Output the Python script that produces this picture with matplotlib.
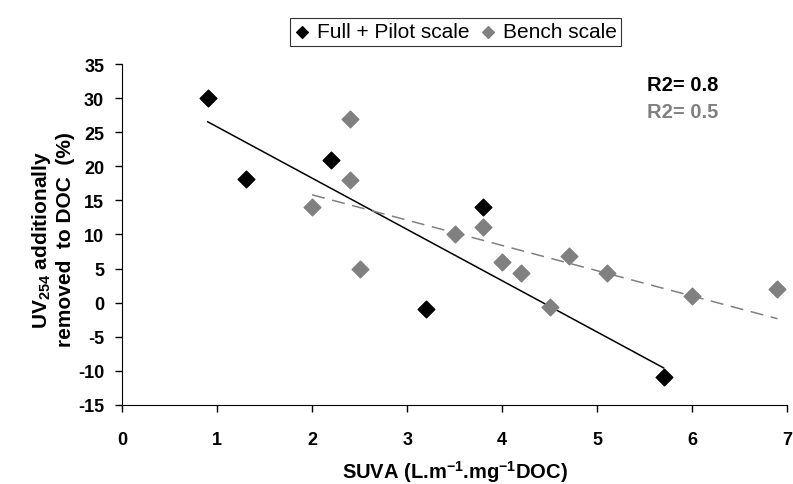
import numpy as np
import matplotlib
matplotlib.use('Agg')
import matplotlib.pyplot as plt

plt.rcParams['font.family'] = ['Liberation Sans', 'DejaVu Sans']
plt.rcParams['mathtext.fontset'] = 'custom'
plt.rcParams['mathtext.rm'] = 'Liberation Sans:bold'
plt.rcParams['mathtext.it'] = 'Liberation Sans:bold'
plt.rcParams['mathtext.bf'] = 'Liberation Sans:bold'
plt.rcParams['axes.unicode_minus'] = False

# data
full_x = [0.9, 1.3, 2.2, 3.2, 3.8, 5.7]
full_y = [30.0, 18.2, 21.0, -1.0, 14.0, -11.0]
bench_x = [2.0, 2.4, 2.4, 2.5, 3.5, 3.8, 4.0, 4.2, 4.5, 4.7, 5.1, 6.0, 6.9]
bench_y = [14.0, 27.0, 18.0, 5.0, 10.0, 11.1, 6.0, 4.4, -0.6, 6.8, 4.4, 1.0, 2.0]

gray = '#808080'

fig = plt.figure(figsize=(7.93, 4.85), dpi=100)
ax = fig.add_axes([0.1542, 0.1635, 0.8382, 0.702])

ax.scatter(full_x, full_y, marker='D', s=72, color='black', zorder=3,
           label='Full + Pilot scale')
ax.scatter(bench_x, bench_y, marker='D', s=72, color=gray, zorder=3,
           label='Bench scale')

# linear trend lines
fx = np.array([min(full_x), max(full_x)])
p1 = np.polyfit(full_x, full_y, 1)
ax.plot(fx, np.polyval(p1, fx), color='black', lw=1.1, zorder=2)

bx = np.array([min(bench_x), max(bench_x)])
p2 = np.polyfit(bench_x, bench_y, 1)
ax.plot(bx, np.polyval(p2, bx), color=gray, lw=1.1, ls=(0, (8.5, 5)), zorder=2)

ax.set_xlim(0, 7)
ax.set_ylim(-15, 35)
ax.set_xticks(range(0, 8))
ax.set_yticks(range(-15, 36, 5))
for s in ['top', 'right']:
    ax.spines[s].set_visible(False)
ax.tick_params(direction='out', length=5, width=1, labelsize=13)
ax.tick_params(axis='x', pad=14)
ax.tick_params(axis='y', pad=8)
for lab in ax.get_xticklabels() + ax.get_yticklabels():
    lab.set_fontweight('bold')

ax.set_xlabel('SUVA (L.m$^{-1}$.mg$^{-1}$DOC)', fontsize=14.5, fontweight='bold',
              labelpad=7)
ax.set_ylabel('UV$_{254}$ additionally\nremoved  to DOC  (%)', fontsize=15,
              fontweight='bold', linespacing=1.2)
ax.yaxis.set_label_coords(-0.071, 0.487)

ax.text(5.53, 32.0, 'R2= 0.8', fontsize=14.5, fontweight='bold', color='black',
        va='center')
ax.text(5.53, 28.0, 'R2= 0.5', fontsize=14.5, fontweight='bold', color=gray,
        va='center')

leg = ax.legend(loc='center', bbox_to_anchor=(0.501, 1.095), ncol=2,
                frameon=True, fancybox=False, fontsize=15, handlelength=0.8,
                handletextpad=0.3, columnspacing=0.5, borderpad=0.2,
                scatterpoints=1, markerscale=0.7, borderaxespad=0)
leg.get_frame().set_edgecolor('black')
leg.get_frame().set_linewidth(0.8)

fig.savefig('out.png', dpi=100)
